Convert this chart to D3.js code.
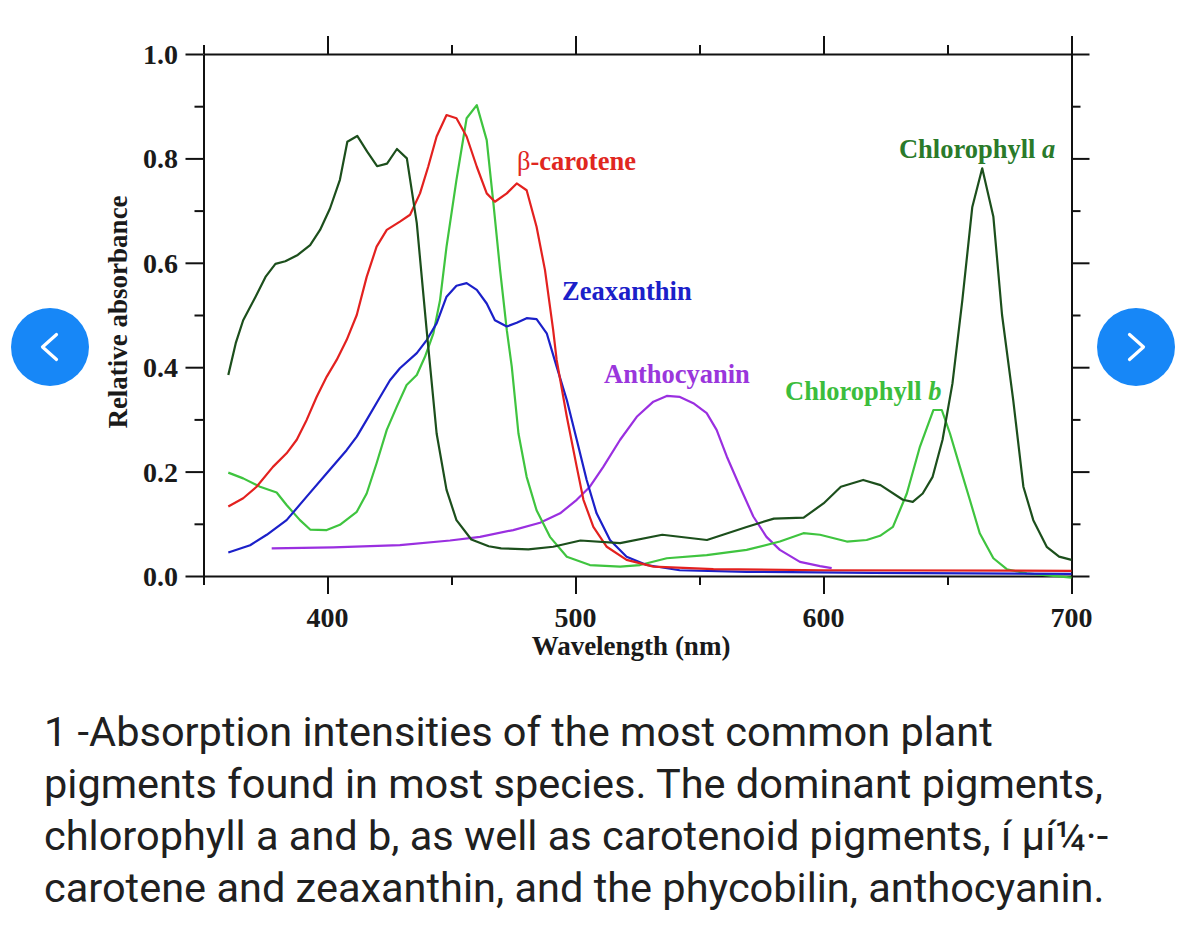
<!DOCTYPE html>
<html>
<head>
<meta charset="utf-8">
<script src="https://cdn.jsdelivr.net/npm/d3@7"></script>
<style>
  html, body { margin: 0; padding: 0; background: #ffffff; }
  svg { display: block; }
</style>
</head>
<body>
<svg id="chart" width="1200" height="945"></svg>
<script>
// ---- Data (wavelength nm, relative absorbance) ----
const chlorophyllA = [
  [360,0.385],[363,0.446],[366,0.49],[371,0.535],[375,0.573],[379,0.598],[383,0.603],[388,0.615],
  [393,0.634],[397,0.663],[401,0.704],[405,0.759],[408,0.832],[412,0.843],[416,0.813],[420,0.785],
  [424,0.79],[428,0.818],[432,0.80],[436,0.676],[440,0.47],[444,0.273],[448,0.165],[452,0.107],
  [458,0.07],[465,0.057],[470,0.053],[481,0.051],[491,0.056],[502,0.068],[518,0.063],[535,0.079],
  [553,0.069],[569,0.094],[580,0.11],[592,0.112],[600,0.139],[607,0.171],[616,0.184],[623,0.174],
  [632,0.146],[636,0.142],[640,0.158],[644,0.19],[648,0.261],[652,0.369],[656,0.529],[660,0.707],
  [664,0.781],[668.5,0.688],[672,0.50],[676.5,0.337],[680.6,0.171],[684.6,0.107],[690,0.056],
  [695,0.037],[700,0.031]
];
const chlorophyllB = [
  [360,0.198],[366,0.187],[372.8,0.171],[379.5,0.160],[383.5,0.136],[388.9,0.107],[393,0.089],
  [399.7,0.088],[405,0.098],[411.8,0.123],[415.8,0.158],[419.8,0.216],[423.9,0.28],[427.9,0.324],
  [431.9,0.366],[436,0.385],[439.3,0.42],[442.7,0.465],[445.4,0.529],[448,0.631],[452,0.759],
  [456.1,0.877],[460.2,0.902],[464.2,0.835],[466.9,0.714],[469.6,0.586],[472.3,0.471],[474.3,0.401],
  [477,0.273],[480.3,0.19],[484.3,0.126],[489.7,0.075],[496.5,0.037],[505.8,0.021],[518,0.018],
  [526,0.021],[536.8,0.034],[552.9,0.04],[569,0.05],[582.4,0.066],[591.9,0.082],[598.6,0.079],
  [609.4,0.066],[617.4,0.069],[622.8,0.077],[628,0.094],[633.6,0.158],[638.9,0.248],[644.3,0.318],
  [647.7,0.318],[651,0.273],[655,0.209],[659,0.146],[663,0.082],[668.5,0.034],[673.9,0.013],
  [682,0.005],[700,-0.003]
];
const betaCarotene = [
  [360,0.133],[366,0.149],[371.4,0.171],[378,0.209],[383.5,0.235],[387.6,0.261],[391.6,0.299],
  [395.6,0.343],[399.7,0.382],[403.7,0.414],[407.7,0.452],[411.8,0.50],[415.8,0.573],[419.8,0.631],
  [423.9,0.663],[429.2,0.679],[433.3,0.692],[437.3,0.733],[440.6,0.784],[444,0.842],[448,0.883],
  [452,0.877],[456.1,0.842],[460.2,0.784],[464.2,0.733],[467.5,0.717],[472.3,0.733],[476.3,0.752],
  [480.3,0.739],[484.3,0.669],[487.7,0.586],[491,0.471],[492.4,0.414],[496.5,0.305],[500.5,0.209],
  [503.2,0.146],[507.2,0.094],[512.6,0.056],[520.6,0.031],[531.4,0.018],[555.6,0.013],[600,0.011],
  [700,0.010]
];
const zeaxanthin = [
  [360,0.045],[368.8,0.059],[375.5,0.079],[383.5,0.107],[391.6,0.152],[399.7,0.197],[407.7,0.241],
  [411.8,0.267],[415.8,0.299],[421.2,0.343],[425.2,0.375],[429.2,0.398],[436,0.427],[440,0.452],
  [444,0.484],[448,0.535],[452,0.556],[456.1,0.561],[460.2,0.548],[464.2,0.522],[467.5,0.49],
  [472.3,0.478],[476.3,0.485],[480.3,0.494],[484.3,0.492],[488.4,0.465],[492.4,0.401],[496.5,0.337],
  [500.5,0.261],[504.5,0.184],[508.5,0.12],[513.9,0.069],[520.6,0.037],[528.7,0.021],[542,0.011],
  [569,0.008],[620,0.006],[700,0.004]
];
const anthocyanin = [
  [377.5,0.053],[402.3,0.055],[429.2,0.059],[449.4,0.068],[461.5,0.075],[474.9,0.088],[485.7,0.102],
  [493.8,0.12],[500.5,0.146],[505.8,0.171],[511.2,0.209],[518,0.261],[524.7,0.305],[531.4,0.334],
  [536.8,0.345],[542.1,0.343],[547.5,0.331],[552.9,0.312],[556.9,0.28],[561,0.229],[566.3,0.171],
  [571.7,0.114],[577,0.075],[582.4,0.05],[590.5,0.027],[598.6,0.019],[603.3,0.015]
];

const seriesNames = ["Chlorophyll a", "Chlorophyll b", "β-carotene", "Zeaxanthin", "Anthocyanin"];
const seriesData = [chlorophyllA, chlorophyllB, betaCarotene, zeaxanthin, anthocyanin];
const majorXTicks = [400, 500, 600, 700];
const minorXTicks = [350, 450, 550, 650];
const majorYTicks = [0.0, 0.2, 0.4, 0.6, 0.8, 1.0];
const minorYTicks = [0.1, 0.3, 0.5, 0.7, 0.9];
// label anchors in data units (wavelength, absorbance)
const labelAnchors = [[630.4, 0.80], [584.5, 0.337], [476.4, 0.778], [494.6, 0.529], [511.5, 0.37]];
const captionLines = [
  "1 -Absorption intensities of the most common plant",
  "pigments found in most species. The dominant pigments,",
  "chlorophyll a and b, as well as carotenoid pigments, \u00ed \u00b5\u00ed\u00bc\u00b7-",
  "carotene and zeaxanthin, and the phycobilin, anthocyanin."
];

// ---- Styles ----
const lineColors = ["#1c4f1c", "#3fc43f", "#e3211f", "#1b20c9", "#9a2fe0"];
const labelColors = ["#2a7a2a", "#3cbd3c", "#e0271f", "#1b20c9", "#9a36dc"];
const serif = "'Liberation Serif', 'Times New Roman', serif";

const svg = d3.select("#chart");
const L = 203.5, R = 1071.5, T = 54, B = 576;
const x = d3.scaleLinear().domain([350, 700]).range([L, R]);
const y = d3.scaleLinear().domain([0, 1]).range([B, T]);

// axes
function styleAxis(g) {
  g.selectAll("path.domain").attr("stroke", "#111").attr("stroke-width", 2);
  g.selectAll(".tick line").attr("stroke", "#111").attr("stroke-width", 2);
}
const axes = [
  [d3.axisBottom(x), `translate(0,${B})`, majorXTicks, minorXTicks],
  [d3.axisTop(x), `translate(0,${T})`, majorXTicks, minorXTicks],
  [d3.axisLeft(y), `translate(${L},0)`, majorYTicks, minorYTicks],
  [d3.axisRight(y), `translate(${R},0)`, majorYTicks, minorYTicks]
];
axes.forEach(([ax, tr, maj, min]) => {
  svg.append("g").attr("transform", tr)
    .call(ax.tickValues(maj).tickSize(18).tickSizeOuter(0).tickFormat(""))
    .call(styleAxis);
  svg.append("g").attr("transform", tr)
    .call(ax.tickValues(min).tickSize(9).tickSizeOuter(0).tickFormat(""))
    .call(g => g.select("path.domain").remove())
    .call(styleAxis);
});

// tick labels
svg.append("g").selectAll("text").data(majorYTicks).join("text")
  .attr("x", 178).attr("y", d => y(d)).attr("dy", "0.36em")
  .attr("text-anchor", "end")
  .attr("font-family", serif).attr("font-weight", "bold").attr("font-size", 28)
  .attr("fill", "#1a1a1a")
  .text(d => d.toFixed(1));
svg.append("g").selectAll("text").data(majorXTicks).join("text")
  .attr("x", d => x(d)).attr("y", 627)
  .attr("text-anchor", "middle")
  .attr("font-family", serif).attr("font-weight", "bold").attr("font-size", 28)
  .attr("fill", "#1a1a1a")
  .text(d => d);

// axis titles
svg.append("text")
  .attr("x", 631).attr("y", 655).attr("text-anchor", "middle")
  .attr("font-family", serif).attr("font-weight", "bold").attr("font-size", 27)
  .attr("fill", "#1a1a1a").text("Wavelength (nm)");
svg.append("text")
  .attr("transform", "translate(127,312) rotate(-90)").attr("text-anchor", "middle")
  .attr("font-family", serif).attr("font-weight", "bold").attr("font-size", 27)
  .attr("fill", "#1a1a1a").text("Relative absorbance");

// curves
const line = d3.line().x(d => x(d[0])).y(d => y(d[1])).curve(d3.curveLinear);
const drawOrder = [4, 1, 3, 2, 0];
drawOrder.forEach(i => {
  svg.append("path").datum(seriesData[i])
    .attr("fill", "none").attr("stroke", lineColors[i]).attr("stroke-width", 2.2)
    .attr("stroke-linejoin", "round").attr("d", line);
});

// labels
seriesNames.forEach((name, i) => {
  const t = svg.append("text")
    .attr("x", x(labelAnchors[i][0])).attr("y", y(labelAnchors[i][1]))
    .attr("font-family", serif).attr("font-weight", "bold").attr("font-size", 26.5)
    .attr("fill", labelColors[i]);
  if (name.startsWith("Chlorophyll")) {
    const parts = name.split(" ");
    t.append("tspan").text(parts[0] + " ");
    t.append("tspan").attr("font-style", "italic").text(parts[1]);
  } else if (name.startsWith("β")) {
    t.append("tspan").attr("font-weight", "normal").text("β");
    t.append("tspan").text(name.slice(1));
  } else {
    t.text(name);
  }
});

// caption
svg.append("g").selectAll("text").data(captionLines).join("text")
  .attr("x", 44).attr("y", (d, i) => 746 + i * 52)
  .attr("font-family", "Roboto, sans-serif").attr("font-size", 41.5)
  .attr("fill", "#202020")
  .text(d => d);

// navigation buttons
const navs = [[50, 347, -1], [1136, 347, 1]];
navs.forEach(([cx, cy, dir]) => {
  svg.append("circle").attr("cx", cx).attr("cy", cy).attr("r", 39).attr("fill", "#1787f7");
  const tip = cx + dir * 7.5, back = cx - dir * 6.5;
  svg.append("path")
    .attr("d", `M${back},${cy - 12.5}L${tip},${cy}L${back},${cy + 12.5}`)
    .attr("fill", "none").attr("stroke", "#fff").attr("stroke-width", 3.2)
    .attr("stroke-linecap", "round").attr("stroke-linejoin", "round");
});
</script>
</body>
</html>
